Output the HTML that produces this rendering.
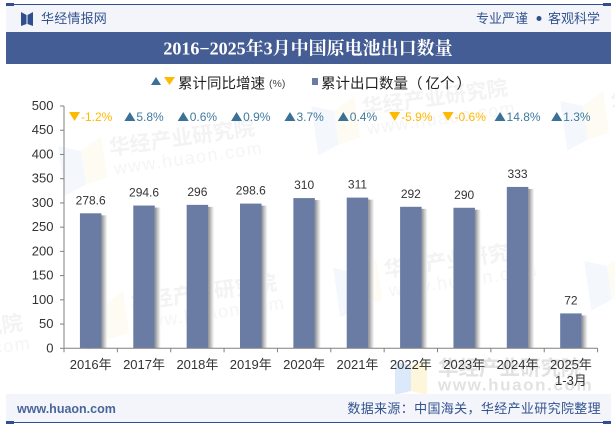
<!DOCTYPE html>
<html lang="zh">
<head>
<meta charset="utf-8">
<title>2016-2025年3月中国原电池出口数量</title>
<style>
html,body{margin:0;padding:0;background:#fff;}
body{width:615px;height:427px;overflow:hidden;position:relative;font-family:"Liberation Sans","Noto Sans CJK SC",sans-serif;}
svg{position:absolute;left:0;top:0;display:block;}
text{font-family:"Liberation Sans","Noto Sans CJK SC",sans-serif;}
</style>
</head>
<body>
<svg id="chart" width="615" height="427" viewBox="0 0 615 427" xmlns="http://www.w3.org/2000/svg">
  <defs>
    <linearGradient id="shadowGrad" x1="0" x2="1" y1="0" y2="0">
      <stop offset="0" stop-color="#8c8c8c"/>
      <stop offset="0.45" stop-color="#c4c4c4"/>
      <stop offset="1" stop-color="#ffffff"/>
    </linearGradient>
  </defs>

  <g id="watermarks"></g>

  <rect x="6" y="5" width="605" height="27" fill="#f3f5fa"/>
  <rect x="6" y="4" width="605" height="1" fill="#2f4f8f"/>
  <rect x="6" y="3" width="8" height="3" fill="#2f4f8f"/>
  <rect x="603" y="3" width="8" height="3" fill="#2f4f8f"/>
  <g fill="#2f4f8f">
    <polygon points="21,12 26.5,15 26.5,24 21,26"/>
    <polygon points="33,12 27.5,15 27.5,24 33,26"/>
  </g>
  <text x="41" y="23" font-size="13" letter-spacing="0.2" fill="#33538f">华经情报网</text>
  <text x="476" y="23" font-size="13" fill="#33538f">专业严谨</text>
  <circle cx="539" cy="18.5" r="2.5" fill="#2f4f8f"/>
  <text x="548" y="23" font-size="13" fill="#33538f">客观科学</text>

  <rect x="6" y="32" width="605" height="32" fill="#445d94"/>
  <text x="308" y="54.5" font-size="18" font-weight="700" text-anchor="middle" fill="#ffffff" style="font-family:'Liberation Serif','Noto Serif CJK SC',serif">2016−2025年3月中国原电池出口数量</text>

  <g>
    <polygon points="151,85 161,85 156,77" fill="#3a7196"/>
    <polygon points="164,77 175,77 169.5,85" fill="#ffb900"/>
    <text x="178" y="88.5" font-size="14.5" fill="#222">累计同比增速</text>
    <text x="269" y="87" font-size="10.5" fill="#444">(%)</text>
  </g>
  <g>
    <rect x="312" y="78" width="6" height="7" fill="#6a7ca4"/>
    <text x="321" y="88.5" font-size="14.5" fill="#222">累计出口数量（<tspan dx="3">亿个</tspan><tspan dx="2">）</tspan></text>
  </g>

  <g id="yaxis"></g>
  <g id="bars"></g>
  <g id="growth"></g>
  <g id="xaxis"></g>

  <rect x="6" y="394" width="605" height="28" fill="#f3f5fa"/>
  <rect x="6" y="422" width="605" height="1" fill="#2f4f8f"/>
  <rect x="6" y="421" width="8" height="3" fill="#2f4f8f"/>
  <rect x="603" y="421" width="8" height="3" fill="#2f4f8f"/>
  <text x="17" y="413" font-size="12.5" font-weight="700" fill="#4a659c">www.huaon.com</text>
  <text x="601" y="413" font-size="13" letter-spacing="0.35" text-anchor="end" fill="#33538f">数据来源：中国海关，华经产业研究院整理</text>
</svg>

<script>
var categories = ['2016年','2017年','2018年','2019年','2020年','2021年','2022年','2023年','2024年','2025年'];
var categorySublabels = ['','','','','','','','','','1-3月'];
var exportValues = [278.6,294.6,296,298.6,310,311,292,290,333,72];
var growthValues = [-1.2,5.8,0.6,0.9,3.7,0.4,-5.9,-0.6,14.8,1.3];
var yTicks = [0,50,100,150,200,250,300,350,400,450,500];

var NS = 'http://www.w3.org/2000/svg';
var plotLeft = 64, plotRight = 597.6, plotTop = 106, plotBottom = 348.3;
var yMax = 500;
var step = (plotRight - plotLeft) / categories.length;
function yScale(v){ return plotBottom - (v / yMax) * (plotBottom - plotTop); }
function xBand(i){ return plotLeft + step * i; }
function xCenter(i){ return xBand(i) + step / 2; }
function make(tag, attrs, parent, txt){
  var el = document.createElementNS(NS, tag);
  for (var k in attrs) el.setAttribute(k, attrs[k]);
  if (txt !== undefined) el.textContent = txt;
  parent.appendChild(el);
  return el;
}

var wmGroup = document.getElementById('watermarks');
var wmSpots = [[110,155,-8],[132,310,-8],[385,277,-8],[363,115,-8],[-122,350,-8],[612,110,-8],[636,270,-8]];
wmSpots.forEach(function(p){
  var g = make('g', {transform:'translate(' + p[0] + ',' + p[1] + ') rotate(' + p[2] + ')'}, wmGroup);
  
  
  make('polygon', {points:'-50,-16 -28,-8 -28,26 -50,34', fill:'#f4f8fd'}, g);
  make('polygon', {points:'-6,-20 -28,-8 -28,26 -6,22', fill:'#fefcf2'}, g);
  make('text', {x:0, y:0, 'font-size':21, 'font-weight':700, fill:'#f3f3f3'}, g, '华经产业研究院');
  make('text', {x:2, y:20, 'font-size':18, fill:'#f5f5f5', 'letter-spacing':1.4}, g, 'www.huaon.com');
});
var wmFlat = make('g', {transform:'translate(438,375)'}, wmGroup);


make('polygon', {points:'-43,-14 -27,-10 -27,16 -43,20', fill:'#dce9fb'}, wmFlat);
make('polygon', {points:'-11,-14 -27,-10 -27,16 -11,20', fill:'#fdf6da'}, wmFlat);
make('text', {x:0, y:0, 'font-size':20.5, 'font-weight':700, fill:'#e2e2e2'}, wmFlat, '华经产业研究院');
make('text', {x:0, y:15.5, 'font-size':17, 'font-weight':700, fill:'#e2e2e2', 'letter-spacing':1.6}, wmFlat, 'www.huaon.com');

var yAxis = document.getElementById('yaxis');
var yLine = make('line', {x1:plotLeft, x2:plotLeft, y1:plotTop, y2:plotBottom, stroke:'#808080', 'stroke-width':1}, yAxis);


yTicks.forEach(function(t){
  var y = yScale(t);
  var tick = make('line', {x1:plotLeft - 4, x2:plotLeft, y1:y, y2:y, stroke:'#808080', 'stroke-width':1}, yAxis);
  
  
  var label = make('text', {x:plotLeft - 10.5, y:y + 4, 'font-size':13, 'text-anchor':'end', fill:'#333'}, yAxis, String(t));
  
  
});

var barWidth = 21.5;
var barGroup = document.getElementById('bars');
exportValues.forEach(function(v, i){
  var y = yScale(v), h = plotBottom - y, x = xCenter(i) - barWidth / 2;
  var sh = make('rect', {x:x + barWidth, y:y + 2, width:6, height:h - 2, fill:'url(#shadowGrad)'}, barGroup);
  
  
  var bar = make('rect', {x:x, y:y, width:barWidth, height:h, fill:'#6a7ca4'}, barGroup);
  
  
  var lab = make('text', {x:xCenter(i), y:y - 9, 'font-size':12, 'text-anchor':'middle', fill:'#333'}, barGroup, String(v));
  
  
});

var growthGroup = document.getElementById('growth');
growthValues.forEach(function(v, i){
  var up = v >= 0, c = up ? '#3a7196' : '#ffb900';
  var triW = 11, gap = 1, yt = 112, yb = 121;
  var txt = make('text', {x:0, y:121, 'font-size':12, fill: up ? '#3f7a9e' : '#ffb900'}, growthGroup, v.toFixed(1) + '%');
  
  
  var w = txt.getComputedTextLength();
  var x0 = xCenter(i) - (triW + gap + w) / 2;
  txt.setAttribute('x', x0 + triW + gap);
  var pts = up
    ? x0 + ',' + yb + ' ' + (x0 + triW) + ',' + yb + ' ' + (x0 + triW / 2) + ',' + yt
    : x0 + ',' + yt + ' ' + (x0 + triW) + ',' + yt + ' ' + (x0 + triW / 2) + ',' + yb;
  var tri = make('polygon', {points:pts, fill:c}, growthGroup);
  
  
});

var xAxis = document.getElementById('xaxis');
var xLine = make('line', {x1:plotLeft, x2:plotRight, y1:plotBottom, y2:plotBottom, stroke:'#808080', 'stroke-width':1}, xAxis);


for (var t = 0; t <= categories.length; t++) {
  var tk = make('line', {x1:xBand(t), x2:xBand(t), y1:plotBottom, y2:plotBottom + 4, stroke:'#808080', 'stroke-width':1}, xAxis);
  
  
}
categories.forEach(function(c, i){
  var l = make('text', {x:xCenter(i), y:369, 'font-size':13, 'text-anchor':'middle', fill:'#333'}, xAxis, c);
  
  
  if (categorySublabels[i]) {
    var s = make('text', {x:xCenter(i), y:385, 'font-size':13, 'text-anchor':'middle', fill:'#333'}, xAxis, categorySublabels[i]);
    
    
  }
});
</script>
</body>
</html>
